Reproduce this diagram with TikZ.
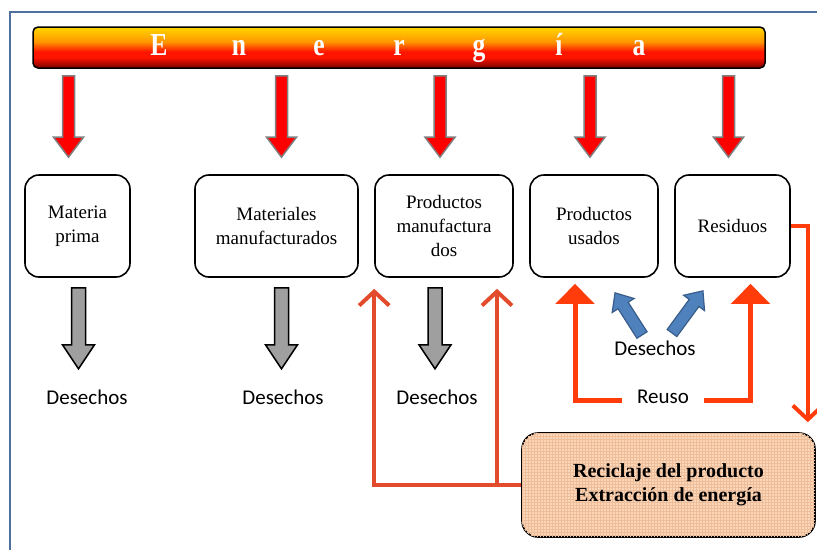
\documentclass[tikz,border=0pt]{standalone}
\usepackage{fontspec}
\setmainfont{Liberation Serif}
\newfontfamily\calibri{Carlito}
\usetikzlibrary{arrows.meta,calc,patterns}

\definecolor{framecol}{RGB}{79,111,158}
\definecolor{reuscol}{RGB}{255,60,10}
\definecolor{reccol}{RGB}{226,75,44}
\definecolor{bluefill}{RGB}{79,129,189}
\definecolor{blueline}{RGB}{56,93,138}
\definecolor{peach}{RGB}{251,214,185}
\definecolor{peachgrid}{RGB}{238,190,155}
\definecolor{barred}{RGB}{255,20,0}
\definecolor{barorange}{RGB}{255,150,0}
\definecolor{baryellow}{RGB}{255,215,0}
\definecolor{bardark}{RGB}{120,0,0}

\pgfdeclareverticalshading{energyshade}{100bp}{color(0bp)=(bardark);
  color(25bp)=(bardark); color(38bp)=(barred); color(45bp)=(barred);
  color(57bp)=(barorange); color(75bp)=(baryellow); color(100bp)=(baryellow)}

% block arrow: style, from, to, shaft width, head width, head length
\newcommand{\blockarrow}[6]{%
  \path[#1] let \p1=(#2), \p2=(#3),
    \n1={atan2(\y2-\y1,\x2-\x1)}, \n2={veclen(\x2-\x1,\y2-\y1)} in
    [shift={(\p1)}, rotate=\n1]
    (0,#4/2) -- (\n2-#6,#4/2) -- (\n2-#6,#5/2) -- (\n2,0)
    -- (\n2-#6,-#5/2) -- (\n2-#6,-#4/2) -- (0,-#4/2) -- cycle;}
\newcommand{\elet}[1]{\makebox[80pt]{\scalebox{0.8}[1]{#1}}}

\tikzset{
  stage/.style={draw, line width=1.6pt, rounded corners=14pt, fill=white,
    align=center, minimum height=102pt, font=\fontsize{19}{24}\selectfont},
  waste/.style={font=\calibri\fontsize{21}{24}\selectfont},
  redarrow/.style={fill=red, draw=gray, line width=1.5pt},
  grayarrow/.style={fill=gray!75, draw=black, line width=1.5pt},
  bluearrow/.style={fill=bluefill, draw=blueline, line width=1.2pt},
  reuse/.style={draw=reuscol, line width=5pt, -{Triangle[length=20pt,width=38pt]}},
  recline/.style={draw=reccol, line width=4pt,
    -{Straight Barb[length=14pt,width=30pt,line width=4pt]}},
}

\begin{document}
\begin{tikzpicture}[x=1pt, y=-1pt]
    \useasboundingbox (0,0) rectangle (817,550);
    % Frame
    \draw[framecol, line width=2pt] (10,550) -- (10,12) -- (817,12);
    % Energy bar
    \node[draw, line width=1.5pt, rounded corners=5pt, shading=energyshade,
      minimum width=732pt, minimum height=41pt, text=white,
      font=\bfseries\fontsize{32}{32}\selectfont] (bar) at (399,47.5)
      {\elet{E}\elet{n}\elet{e}\elet{r}\elet{g}\elet{í}\elet{a}};
    % Stages
    \node[stage, minimum width=105pt] (m1) at (77.5,226) {Materia\\prima};
    \node[stage, minimum width=163pt] (m2) at (276.5,226) {Materiales\\manufacturados};
    \node[stage, minimum width=138pt] (p1) at (444,226) {Productos\\manufactura\\dos};
    \node[stage, minimum width=128pt] (p2) at (594,226) {Productos\\usados};
    \node[stage, minimum width=115pt] (r1) at (732.5,226) {Residuos};
    % Energy arrows
    \foreach \b/\dx in {m1/-9, m2/5, p1/-4, p2/-4, r1/-4}
      \blockarrow{redarrow}{$(bar.south -| \b.north)+(\dx,7)$}{$(\b.north)+(\dx,-17)$}{12}{30}{20};
    % Waste
    \node[waste] (d1) at (87,397) {Desechos};
    \node[waste] (d2) at (283,397) {Desechos};
    \node[waste] (d3) at (437,397) {Desechos};
    \node[waste] (d4) at (655,348) {Desechos};
    \foreach \b/\dx in {m1/1, m2/5, p1/-9}
      \blockarrow{grayarrow}{$(\b.south)+(\dx,10)$}{$(\b.south)+(\dx,91)$}{14}{32}{24};
    \blockarrow{bluearrow}{$(d4)+(-13,-13)$}{$(p2.south)+(21,15)$}{12}{26}{15};
    \blockarrow{bluearrow}{$(d4)+(17,-15)$}{$(r1.south)+(-29.5,13)$}{12}{26}{15};
    % Reuse
    \node[waste] (reuso) at (663,397) {Reuso};
    \draw[reuse] ($(reuso.west)+(-12,3)$) -| ($(p2.south)+(-19,6)$);
    \draw[reuse] ($(reuso.east)+(12,3)$) -| ($(r1.south)+(18,6)$);
    % Recycling
    \node[draw, line width=1.6pt, rounded corners=16pt, fill=peach,
      postaction={pattern=grid, pattern color=peachgrid},
      minimum width=293pt, minimum height=104pt, align=center,
      font=\bfseries\fontsize{20}{24}\selectfont] (rec) at (668.5,485)
      {Reciclaje del producto\\Extracción de energía};
    \draw[recline] (rec.west) -| ($(p1.south west)+(0,11)$);
    \draw[recline] ($(p1.south)+(53,208)$) -- ($(p1.south)+(53,11)$);
    \draw[recline, draw=reuscol] (r1.east) -| ($(rec.north east)+(-8,-10)$);
\end{tikzpicture}
\end{document}
